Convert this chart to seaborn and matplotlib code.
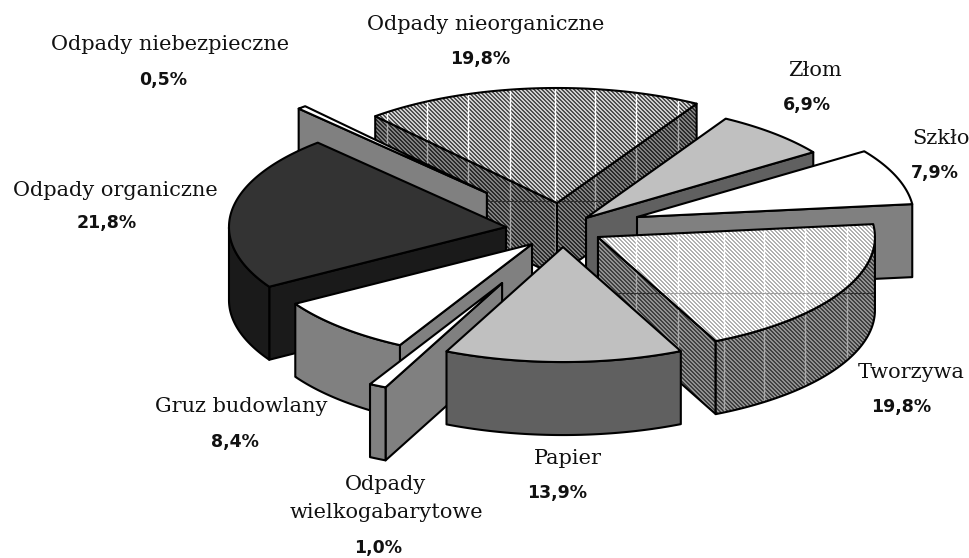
import numpy as np
import pandas as pd
import seaborn as sns
import matplotlib
matplotlib.use("Agg")
import matplotlib.pyplot as plt
from matplotlib.colors import to_rgb
from matplotlib.patches import Polygon

# ---- data ----
categories = ["Odpady nieorganiczne", "Złom", "Szkło", "Tworzywa", "Papier",
              "Odpady\nwielkogabarytowe", "Gruz budowlany", "Odpady organiczne",
              "Odpady niebezpieczne"]
shares = [19.8, 6.9, 7.9, 19.8, 13.9, 1.0, 8.4, 21.8, 0.5]

# ---- style ----
pull_x = [-0.011, 0.094, 0.278, 0.137, 0.011, -0.209, -0.101, -0.195, -0.264]
pull_y = [0.200, 0.070, 0.078, -0.096, -0.183, -0.496, -0.157, -0.009, 0.287]
top_colors = ["#d0d0d0", "#c0c0c0", "#ffffff", "#ffffff", "#c0c0c0",
              "#ffffff", "#ffffff", "#333333", "#ffffff"]
side_colors = ["#808080", "#606060", "#808080", "#909090", "#606060",
               "#808080", "#808080", "#1a1a1a", "#808080"]
top_hatch = ["#505050", None, None, "#b0b0b0", None, None, None, None, None]
side_hatch = ["#2a2a2a", None, None, "#404040", None, None, None, None, None]
draw_order = [0, 8, 7, 1, 2, 3, 6, 5, 4]
label_xy = [(486, 25), (815, 71), (941, 139), (911, 373), (568, 459),
            (386, 499), (241, 407), (115, 190), (170, 45)]
value_xy = [(480, 59), (807, 105), (935, 173), (901, 407), (557, 493),
            (378, 548), (235, 442), (107, 223), (163, 80)]

CX, CY = 560, 226          # pie centre in axes units (pixels)
A, B = 277, 115            # ellipse semi-axes
DEPTH = 73
START = 131
LW = 1.5

sns.set_theme(style="white")

df = pd.DataFrame({"category": categories, "share": shares,
                   "pull_x": pull_x, "pull_y": pull_y})
sweep = df["share"] / df["share"].sum() * 360
df["t1"] = START - sweep.cumsum().shift(fill_value=0)
df["t2"] = df["t1"] - sweep

fig = plt.figure(figsize=(9.7, 5.58), dpi=100, facecolor="white")
ax = fig.add_axes([0, 0, 1, 1])
ax.axis("off")

grid_x = [x + k * 168.5 for k in range(3) for x in (387, 427, 468, 510)]
grid_y = [201, 293]
yy, xx = np.mgrid[0:558, 0:970]
stripe = ((xx - yy) % 4 < 2)[..., None]


def face(xy, color, hatch, z, is_top):
    xy = np.asarray(xy)
    outline = Polygon(xy, closed=True, facecolor="none" if hatch else color,
                      edgecolor="black", lw=LW, joinstyle="round", zorder=z + 0.2)
    ax.add_patch(outline)
    if hatch:
        clip = Polygon(xy, closed=True, facecolor="none", edgecolor="none", zorder=z)
        ax.add_patch(clip)
        tex = np.where(stripe, to_rgb(hatch), to_rgb(color))
        im = ax.imshow(tex, extent=(0, 970, 558, 0), aspect="auto",
                       interpolation="nearest", zorder=z)
        im.set_clip_path(clip)
        for gx in grid_x:
            ln, = ax.plot([gx, gx], [0, 558], lw=1.0, zorder=z + 0.1,
                          color="white" if is_top else "#a8a8a8")
            ln.set_clip_path(clip)
        for gy in grid_y:
            ln, = ax.plot([0, 970], [gy, gy], lw=0.8, zorder=z + 0.1,
                          color="#a0a0a0" if is_top else "#303030")
            ln.set_clip_path(clip)


z = 1.0
for i in draw_order:
    row = df.iloc[i]
    mid = np.radians((row["t1"] + row["t2"]) / 2)
    ax0 = CX + row["pull_x"] * A
    ay0 = CY - row["pull_y"] * B
    ts = np.radians(np.linspace(row["t1"], row["t2"], 160))
    ax_arc = ax0 + A * np.cos(ts)
    ay_arc = ay0 - B * np.sin(ts)
    mx, my = ax0 + A * np.cos(mid), ay0 - B * np.sin(mid)

    # radial cut faces that look towards the viewer
    for cx_, cy_ in ((ax_arc[0], ay_arc[0]), (ax_arc[-1], ay_arc[-1])):
        line_y = ay0 + (cy_ - ay0) / (cx_ - ax0) * (mx - ax0)
        if my < line_y:
            face([(ax0, ay0), (cx_, cy_), (cx_, cy_ + DEPTH), (ax0, ay0 + DEPTH)],
                 side_colors[i], side_hatch[i], z, False)
            z += 1
    # outer wall, front part only
    front = np.sin(ts) <= 0
    if front.sum() > 1:
        xs, ys = ax_arc[front], ay_arc[front]
        face(np.r_[np.c_[xs, ys], np.c_[xs, ys + DEPTH][::-1]],
             side_colors[i], side_hatch[i], z, False)
        z += 1
    # top face
    face(np.r_[[(ax0, ay0)], np.c_[ax_arc, ay_arc]],
         top_colors[i], top_hatch[i], z, True)
    z += 1

ax.set_xlim(0, 970)
ax.set_ylim(558, 0)

for name, share, (lx, ly), (vx, vy) in zip(categories, shares, label_xy, value_xy):
    ax.text(lx, ly, name, family="DejaVu Serif", fontsize=15, color="#111111",
            ha="center", va="center", linespacing=1.6, zorder=z)
    ax.text(vx, vy, f"{share:.1f}".replace(".", ",") + "%", family="DejaVu Sans",
            fontweight="bold", fontsize=12.5, color="#111111",
            ha="center", va="center", zorder=z)

fig.savefig("out.png", dpi=100, facecolor="white")
